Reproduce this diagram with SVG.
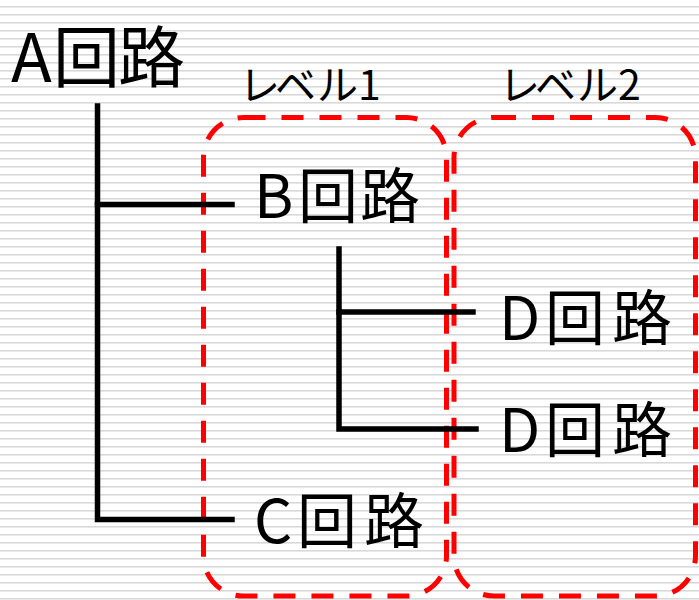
<svg xmlns="http://www.w3.org/2000/svg" width="699" height="600" viewBox="0 0 699 600">
<defs>
<pattern id="stripes" x="0" y="0" width="699" height="8" patternUnits="userSpaceOnUse">
<rect x="0" y="6" width="699" height="1.6" fill="#d9d9d9"/>
</pattern>
</defs>
<style>
.t{font-family:"Noto Sans CJK JP","Noto Sans",sans-serif;fill:#000}
.big{font-size:67px}
.mid{font-size:60px}
.lab{font-size:41px}
.ln{stroke:#000;stroke-width:5.5;fill:none;stroke-linecap:square}
.lvl{fill:none;stroke:#ff0000;stroke-width:5;stroke-dasharray:22 16}
</style>
<rect width="699" height="600" fill="#fff"/>
<rect width="699" height="600" fill="url(#stripes)"/>
<g id="level1">
<rect class="lvl" x="203.5" y="117.5" width="243" height="478.5" rx="40" ry="40"/>
<text class="t lab" x="239 275 317 358" y="100">レベル1</text>
</g>
<g id="level2">
<rect class="lvl" x="454" y="117.5" width="241.5" height="478.5" rx="40" ry="40"/>
<text class="t lab" x="499 535 577 618" y="100">レベル2</text>
</g>
<g id="connectors">
<path class="ln" d="M97.5 106 V519.5 H232"/>
<path class="ln" d="M97.5 204.5 H232"/>
<path class="ln" d="M339 249 V429 H476"/>
<path class="ln" d="M339 312 H473"/>
</g>
<g id="nodeA"><text class="t big" x="11 53 118" y="82">A回路</text></g>
<g id="nodeB"><text class="t mid" x="254 298 360" y="218">B回路</text></g>
<g id="nodeC"><text class="t mid" x="254 297 364" y="543">C回路</text></g>
<g id="nodeD1"><text class="t mid" x="499 545 612" y="340">D回路</text></g>
<g id="nodeD2"><text class="t mid" x="499 545 612" y="452">D回路</text></g>
</svg>
